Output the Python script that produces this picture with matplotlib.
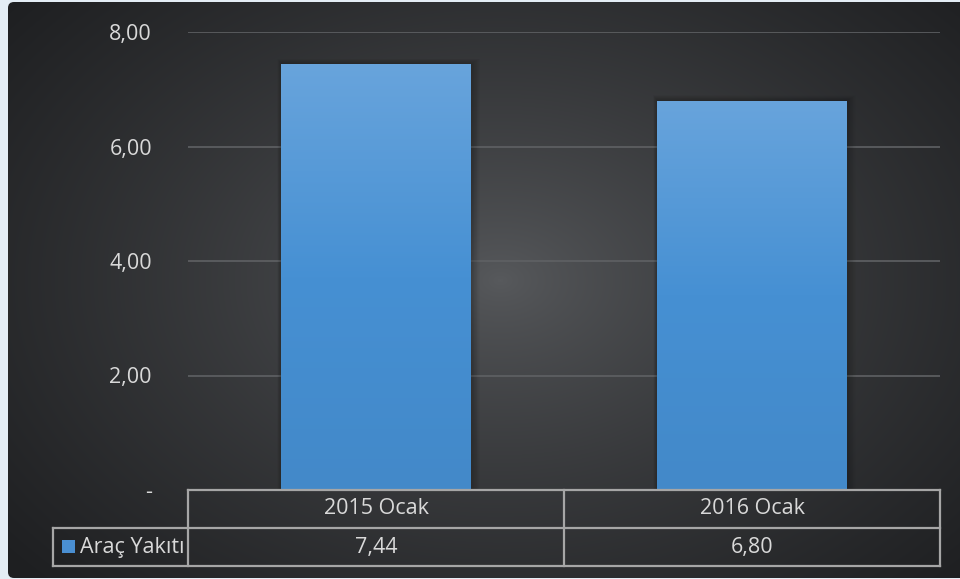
import numpy as np
import matplotlib
matplotlib.use("Agg")
import matplotlib.pyplot as plt
from matplotlib.patches import FancyBboxPatch, Rectangle
from matplotlib.colors import LinearSegmentedColormap

categories = ["2015 Ocak", "2016 Ocak"]
values = [7.44, 6.80]
series_name = "Araç Yakıtı"
yticks = [0, 2, 4, 6, 8]
ytick_labels = ["-", "2,00", "4,00", "6,00", "8,00"]
value_labels = ["7,44", "6,80"]

W, H = 960, 579
plt.rcParams['font.family'] = ['Open Sans', 'DejaVu Sans']
TXT = '#d9d9d9'
FS = 15.5

fig = plt.figure(figsize=(W / 100, H / 100), dpi=100)
fig.patch.set_facecolor('#e4edf5')

# background with radial gradient
axbg = fig.add_axes([0, 0, 1, 1])
axbg.set_xlim(0, W)
axbg.set_ylim(H, 0)
axbg.axis('off')
yy, xx = np.mgrid[0:H, 0:W]
r = np.sqrt(((xx - 500) / 640.0) ** 2 + ((yy - 280) / 440.0) ** 2)
t = np.clip(r, 0, 1) ** 0.75
c0 = np.array([0x58, 0x5a, 0x5d]) / 255.0
c1 = np.array([0x1e, 0x1f, 0x21]) / 255.0
img = c0[None, None, :] * (1 - t[..., None]) + c1[None, None, :] * t[..., None]
clip = FancyBboxPatch((8, 2), W - 8 + 10, H - 2 - 1, boxstyle="round,pad=0,rounding_size=6",
                      transform=axbg.transData, facecolor='none', edgecolor='none')
axbg.add_patch(clip)
im = axbg.imshow(img, extent=(0, W, H, 0), aspect='auto', zorder=0)
im.set_clip_path(clip)

# main axes
L, R, T, B = 188, 940, 32, 490
ax = fig.add_axes([L / W, 1 - B / H, (R - L) / W, (B - T) / H])
ax.set_facecolor('none')
for s in ax.spines.values():
    s.set_visible(False)
ax.set_yticks(yticks)
ax.set_yticklabels(ytick_labels, color=TXT, fontsize=FS)
ax.tick_params(axis='y', length=0, pad=26)
ax.set_xticks([])
for yv in yticks[1:]:
    ax.axhline(yv, color='#5f6164', lw=1.2, zorder=1)

x = np.arange(len(categories))
bw = 0.503
bars = ax.bar(x, values, width=bw, color='none', edgecolor='none', linewidth=0, zorder=3)
grad = LinearSegmentedColormap.from_list('g', ['#4389c9', '#4690d3', '#68a4dc'])
gimg = np.linspace(0, 1, 256)[:, None]
pxx = 2.0 / (R - L)
pxy = 8.0 / (B - T)
for b in bars:
    bx, by, bwid, bh = b.get_x(), b.get_y(), b.get_width(), b.get_height()
    # soft shadow
    for k in range(1, 13):
        ax.add_patch(Rectangle((bx - 0.35 * k * pxx, by), bwid + 1.1 * k * pxx, bh + 0.45 * k * pxy,
                               facecolor='black', edgecolor='none', alpha=0.018, zorder=2))
    gi = ax.imshow(gimg, cmap=grad, extent=(bx, bx + bwid, by, by + bh), origin='lower',
                   aspect='auto', zorder=3)
    gi.set_clip_path(b)
ax.set_xlim(-0.5, len(categories) - 0.5)
ax.set_ylim(0, 8)

# data table
lc = '#a6a6a6'
lw = 1.6
def fy(py):
    return 1 - py / H
def fx(px):
    return px / W
kw = dict(color=lc, lw=lw, transform=fig.transFigure, zorder=5)
fig.add_artist(plt.Line2D([fx(188), fx(940)], [fy(490), fy(490)], **kw))
fig.add_artist(plt.Line2D([fx(53), fx(940)], [fy(528), fy(528)], **kw))
fig.add_artist(plt.Line2D([fx(53), fx(940)], [fy(566), fy(566)], **kw))
fig.add_artist(plt.Line2D([fx(53), fx(53)], [fy(528), fy(566)], **kw))
fig.add_artist(plt.Line2D([fx(188), fx(188)], [fy(490), fy(566)], **kw))
for i in range(len(categories)):
    xr = L + (i + 1) * (R - L) / len(categories)
    fig.add_artist(plt.Line2D([fx(xr), fx(xr)], [fy(490), fy(566)], **kw))
for i, (c, v) in enumerate(zip(categories, value_labels)):
    xc = L + (i + 0.5) * (R - L) / len(categories)
    fig.text(fx(xc), fy(509), c, ha='center', va='center', color=TXT, fontsize=FS)
    fig.text(fx(xc), fy(547), v, ha='center', va='center', color=TXT, fontsize=FS)
fig.add_artist(Rectangle((fx(62), fy(553)), fx(13), 13 / H, transform=fig.transFigure,
                         facecolor='#4a8fd2', edgecolor='none', zorder=5))
fig.text(fx(80), fy(547), series_name, ha='left', va='center', color=TXT, fontsize=FS)

fig.savefig('out.png', dpi=100, facecolor=fig.get_facecolor())
